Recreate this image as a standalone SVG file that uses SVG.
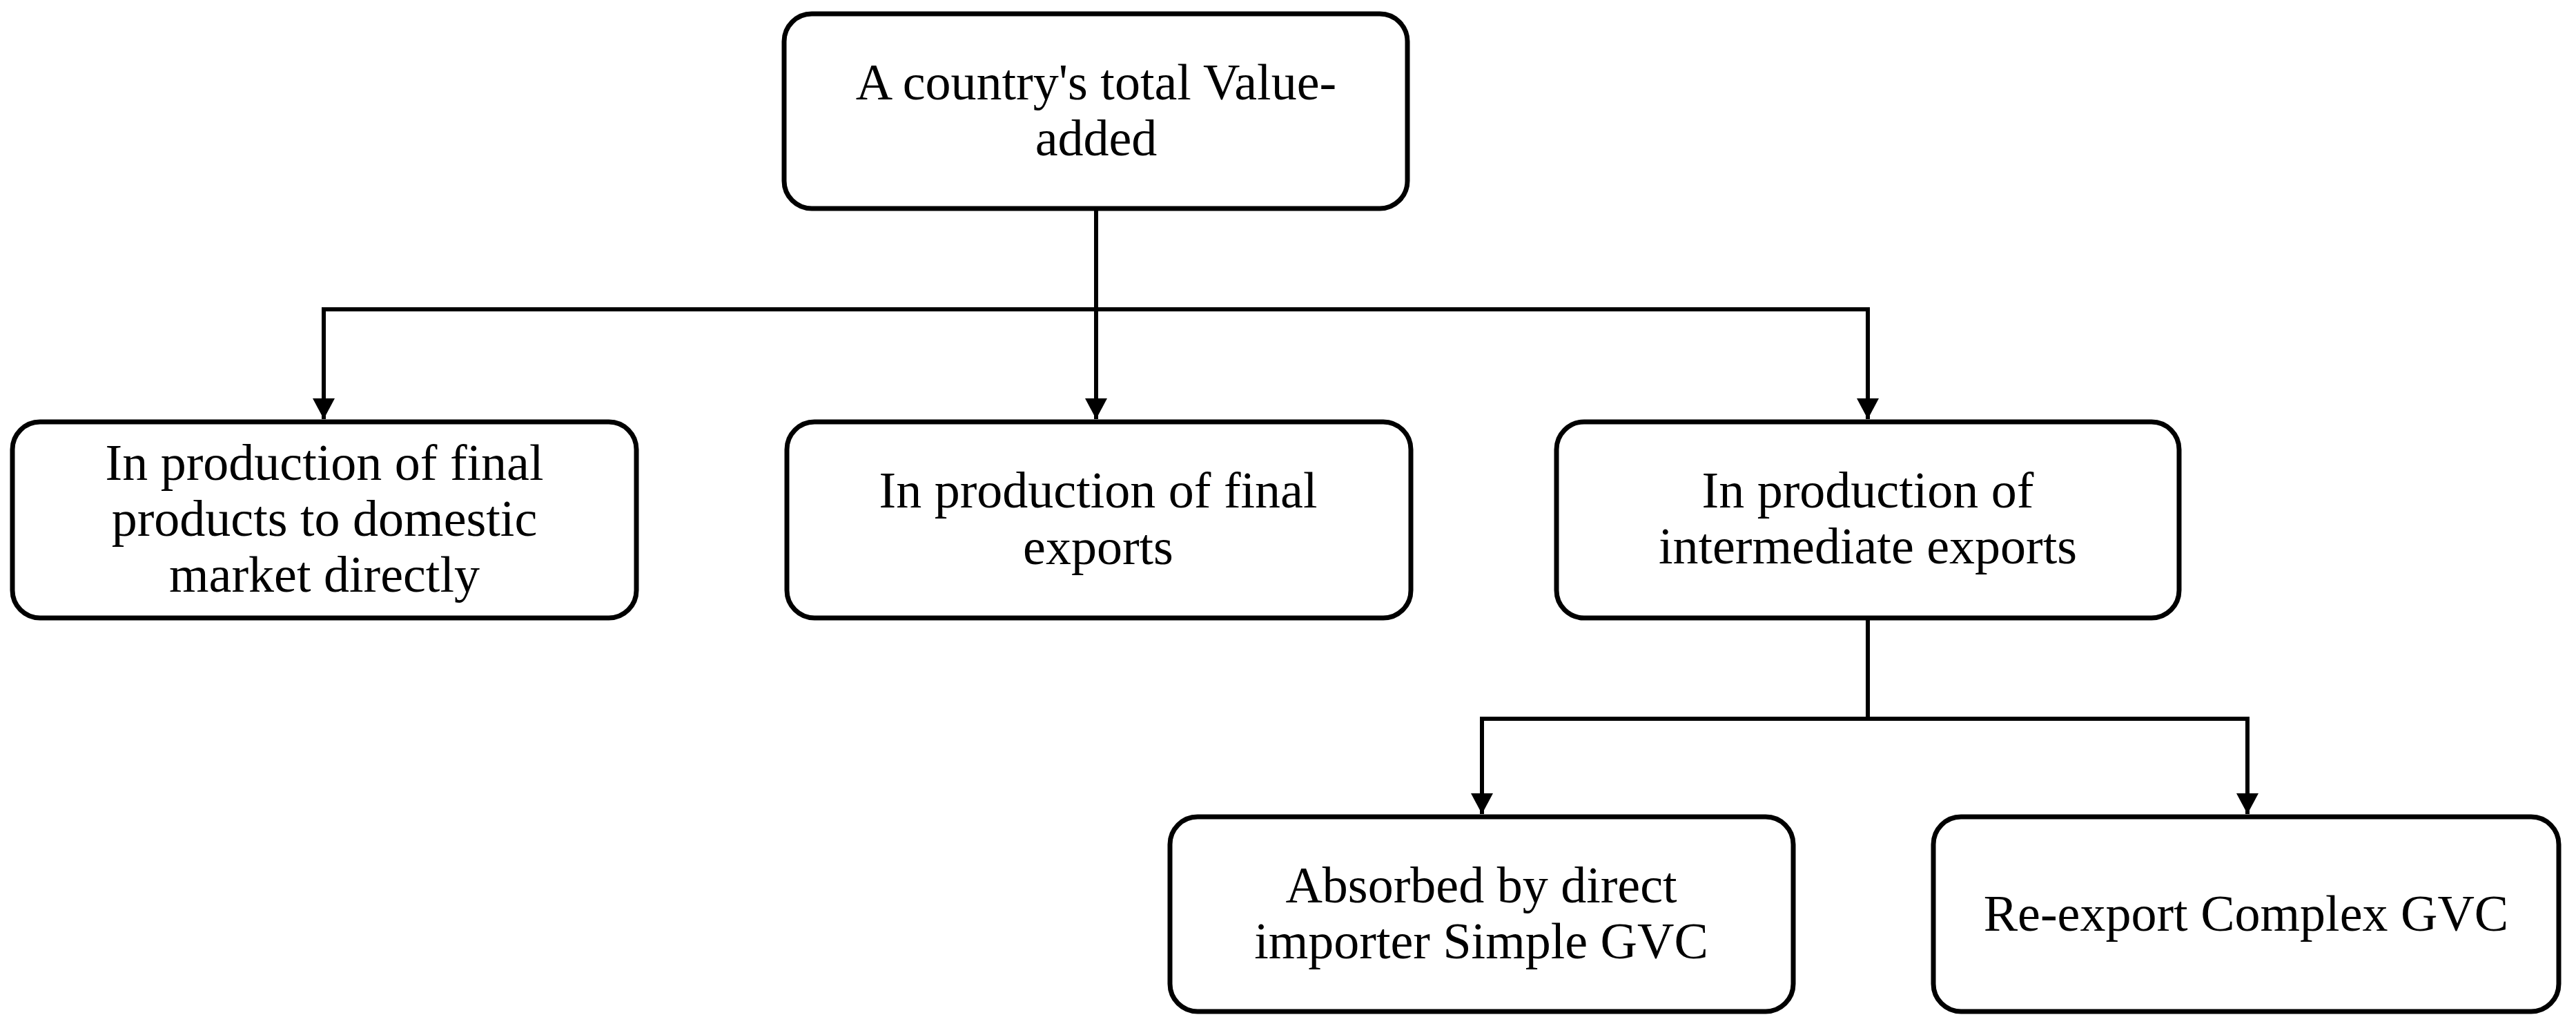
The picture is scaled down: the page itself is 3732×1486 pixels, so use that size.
<svg xmlns="http://www.w3.org/2000/svg" width="3732" height="1486" viewBox="0 0 3732 1486">
  <style>
    .box { fill: #ffffff; stroke: #000000; stroke-width: 7; }
    .lbl { font-family: "Liberation Serif", "Times New Roman", serif; font-size: 74px; fill: #000000; text-anchor: middle; }
    .conn { fill: none; stroke: #000000; stroke-width: 6; }
  </style>
  <defs>
    <marker id="arr" markerUnits="userSpaceOnUse" markerWidth="32" markerHeight="34" refX="30" refY="16" orient="auto">
      <path d="M0,0 L30,16 L0,32 z" fill="#000000"/>
    </marker>
  </defs>
  <rect width="3732" height="1486" fill="#ffffff"/>

  <g id="connectors">
    <path class="conn" d="M1588,302 L1588,607" marker-end="url(#arr)"/>
    <path class="conn" d="M469,448 L2706,448"/>
    <path class="conn" d="M469,445 L469,607" marker-end="url(#arr)"/>
    <path class="conn" d="M2706,445 L2706,607" marker-end="url(#arr)"/>
    <path class="conn" d="M2706,895 L2706,1041"/>
    <path class="conn" d="M2147,1041 L3256,1041"/>
    <path class="conn" d="M2147,1038 L2147,1179" marker-end="url(#arr)"/>
    <path class="conn" d="M3256,1038 L3256,1179" marker-end="url(#arr)"/>
  </g>

  <g id="node-total">
    <rect class="box" x="1136" y="20" width="903" height="282" rx="40" ry="40"/>
    <text class="lbl" x="1588" y="144">A country's total Value-</text>
    <text class="lbl" x="1588" y="225">added</text>
  </g>

  <g id="node-domestic">
    <rect class="box" x="18" y="611" width="904" height="284" rx="40" ry="40"/>
    <text class="lbl" x="470" y="695">In production of final</text>
    <text class="lbl" x="470" y="776">products to domestic</text>
    <text class="lbl" x="470" y="857">market directly</text>
  </g>

  <g id="node-final-exports">
    <rect class="box" x="1140" y="611" width="904" height="284" rx="40" ry="40"/>
    <text class="lbl" x="1591" y="735">In production of final</text>
    <text class="lbl" x="1591" y="817">exports</text>
  </g>

  <g id="node-intermediate">
    <rect class="box" x="2255" y="611" width="902" height="284" rx="40" ry="40"/>
    <text class="lbl" x="2706" y="735">In production of</text>
    <text class="lbl" x="2706" y="816">intermediate exports</text>
  </g>

  <g id="node-simple">
    <rect class="box" x="1695" y="1183" width="903" height="282" rx="40" ry="40"/>
    <text class="lbl" x="2146" y="1307">Absorbed by direct</text>
    <text class="lbl" x="2146" y="1388">importer Simple GVC</text>
  </g>

  <g id="node-complex">
    <rect class="box" x="2801" y="1183" width="906" height="282" rx="40" ry="40"/>
    <text class="lbl" x="3254" y="1348">Re-export Complex GVC</text>
  </g>
</svg>
